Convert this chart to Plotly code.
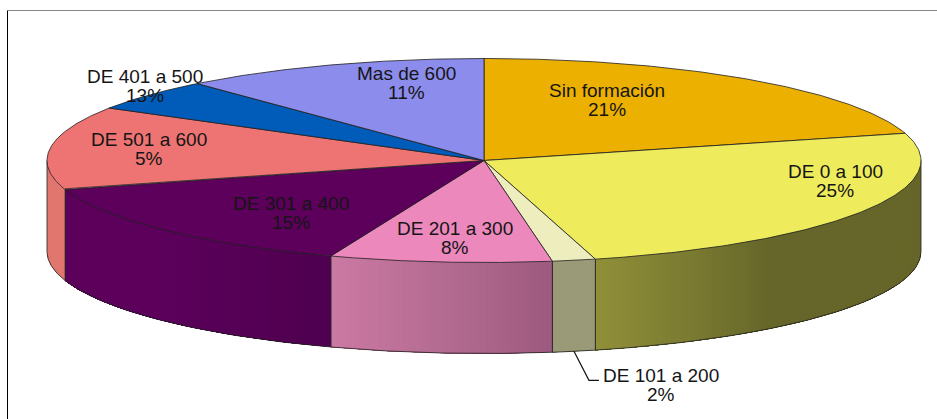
import numpy as np
import plotly.graph_objects as go

categories = ["Sin formación", "DE 0 a 100", "DE 101 a 200", "DE 201 a 300",
              "DE 301 a 400", "DE 501 a 600", "DE 401 a 500", "Mas de 600"]
# Share of the circle as drawn
slice_values = [20.7, 25.2, 1.6, 8.2, 14.7, 13.2, 5, 11.4]
# Percentages as printed on the chart's labels
printed_percent = ["21%", "25%", "2%", "8%", "15%", "5%", "13%", "11%"]

top_colors = ["#ECB000", "#EEEC5C", "#EEEDBE", "#EC88BC",
              "#5C005C", "#EE7474", "#005CB8", "#8C8CEC"]
# Side-wall shading: colour at the clockwise start of a slice's wall, at its knee and at its end
wall_start = [None, "#66662A", "#9A9A78", "#9E5A80", "#500050", "#E0766E", None, None]
wall_mid = [None, "#66662A", "#9A9A78", "#B56C92", "#5C005C", "#E0766E", None, None]
wall_end = [None, "#90903A", "#9A9A78", "#CC7AA4", "#5C005C", "#E07A72", None, None]
wall_knee = [0.5, 0.65, 0.5, 0.5, 0.5, 0.5, 0.5, 0.5]

label_x = [607, 835, 661, 455, 291, 149, 145, 406]
label_y = [100, 181, 385, 238, 213, 149, 86, 83]

CX, CY, RX, RY, DEPTH = 484, 160.5, 437, 102, 91
EDGE = "#1f1f1f"
LINE_PITCH = 19


def rgb(h):
    return np.array([int(h[i:i + 2], 16) for i in (1, 3, 5)], float)


def ex(t):
    return CX + RX * np.sin(t)


def ey(t):
    return CY - RY * np.cos(t)


fig = go.Figure()
fracs = np.array(slice_values) / sum(slice_values)
edges = np.concatenate([[0], np.cumsum(fracs)]) * 2 * np.pi


def poly(xs, ys, fill, line, width):
    fig.add_trace(go.Scatter(x=xs, y=ys, mode="lines", fill="toself", fillcolor=fill,
                             line=dict(color=line, width=width), hoverinfo="skip",
                             showlegend=False))


# Side walls (front half of the disc only): each band is painted from its start
# to the end of the wall, so the next band overlaps it and no seams appear
for i in range(len(slice_values)):
    a = max(edges[i], np.pi / 2)
    b = min(edges[i + 1], 3 * np.pi / 2)
    if b <= a or wall_start[i] is None:
        continue
    n = max(3, int((abs(ex(a) - ex(b))) / 3))
    ts = np.linspace(a, b, n + 1)
    c0, c1, c2 = rgb(wall_start[i]), rgb(wall_mid[i]), rgb(wall_end[i])
    knee = wall_knee[i]
    for k in range(n):
        u = (k + 0.5) / n
        c = c0 + (c1 - c0) * u / knee if u < knee else c1 + (c2 - c1) * (u - knee) / (1 - knee)
        col = "rgb(%d,%d,%d)" % tuple(c)
        t = np.linspace(ts[k], b, 40)
        xs = np.concatenate([ex(t), ex(t)[::-1]])
        ys = np.concatenate([ey(t), ey(t)[::-1] + DEPTH])
        poly(list(xs) + [xs[0]], list(ys) + [ys[0]], col, col, 0)
    # outline of the wall: bottom arc and vertical seams
    t = np.linspace(a, b, 80)
    fig.add_trace(go.Scatter(x=ex(t), y=ey(t) + DEPTH, mode="lines",
                             line=dict(color=EDGE, width=0.8), hoverinfo="skip",
                             showlegend=False))
    for s in (a, b):
        fig.add_trace(go.Scatter(x=[ex(s), ex(s)], y=[ey(s), ey(s) + DEPTH], mode="lines",
                                 line=dict(color=EDGE, width=0.8), hoverinfo="skip",
                                 showlegend=False))

# Top face
for i, col in enumerate(top_colors):
    t = np.linspace(edges[i], edges[i + 1], 120)
    xs = [CX] + list(ex(t)) + [CX]
    ys = [CY] + list(ey(t)) + [CY]
    poly(xs, ys, col, EDGE, 0.8)

# Leader line of the small slice
mid = (edges[2] + edges[3]) / 2
fig.add_trace(go.Scatter(x=[ex(mid), ex(mid) + 15, ex(mid) + 25],
                         y=[ey(mid) + DEPTH, ey(mid) + DEPTH + 29, ey(mid) + DEPTH + 29],
                         mode="lines", line=dict(color="#111111", width=1.2),
                         hoverinfo="skip", showlegend=False))

for name, pct, x, y in zip(categories, printed_percent, label_x, label_y):
    for txt, yy in ((name, y - LINE_PITCH / 2), (pct, y + LINE_PITCH / 2)):
        fig.add_annotation(x=x, y=yy, text=txt, showarrow=False,
                           xanchor="center", yanchor="middle", align="center",
                           font=dict(family="Liberation Sans", size=19, color="#151515"))

# Frame of the picture
fig.add_shape(type="line", xref="paper", yref="paper", x0=7.5 / 937, x1=1,
              y0=1 - 10.5 / 419, y1=1 - 10.5 / 419, line=dict(color="#888888", width=1))
fig.add_shape(type="line", xref="paper", yref="paper", x0=7.5 / 937, x1=7.5 / 937,
              y0=0, y1=1 - 10.5 / 419, line=dict(color="#000000", width=1))

fig.update_layout(width=937, height=419, margin=dict(l=0, r=0, t=0, b=0),
                  paper_bgcolor="white", plot_bgcolor="white", showlegend=False,
                  xaxis=dict(range=[0, 937], visible=False, fixedrange=True),
                  yaxis=dict(range=[419, 0], visible=False, fixedrange=True))
fig.write_html("out.html", config={"displayModeBar": False},
               post_script="document.body.style.margin='0';document.body.style.overflow='hidden';")
